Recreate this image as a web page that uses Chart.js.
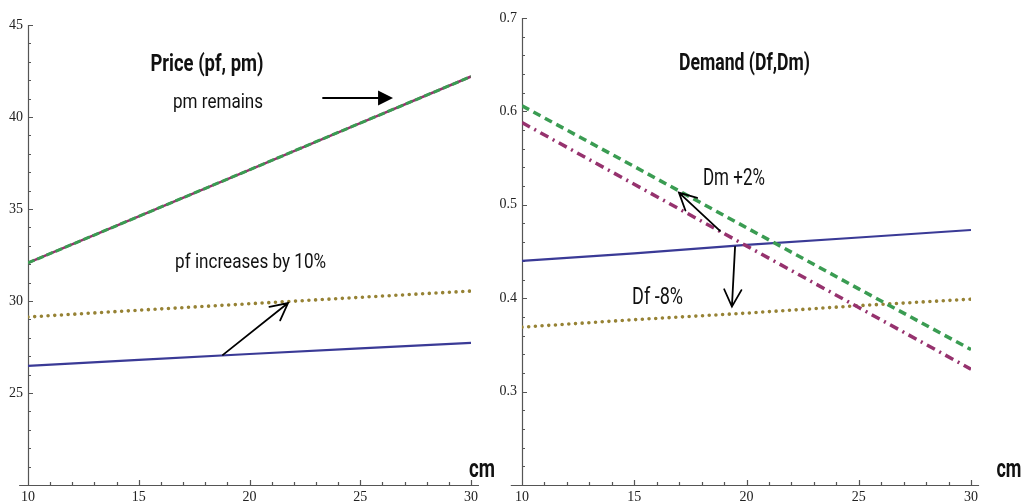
<!DOCTYPE html>
<html><head><meta charset="utf-8">
<script src="https://cdn.jsdelivr.net/npm/chart.js@4.4.1/dist/chart.umd.min.js"></script>
<style>
html,body{margin:0;padding:0;background:#fff;width:1023px;height:503px;overflow:hidden}
#l{position:absolute;left:0;top:0}
#r{position:absolute;left:495px;top:0}
</style></head><body>
<canvas id="l" width="505" height="503"></canvas>
<canvas id="r" width="528" height="503"></canvas>
<script>
// ---- data ----
const cm = [10, 15, 20, 25, 30];
// Price panel
const pmBase = [32.07, 34.6, 37.13, 39.67, 42.2];
const pmNew  = [32.07, 34.6, 37.13, 39.67, 42.2];
const pfBase = [26.47, 26.8, 27.12, 27.42, 27.72];
const pfNew  = [29.13, 29.5, 29.85, 30.2, 30.54];
// Demand panel
const dmBase = [0.588, 0.522, 0.456, 0.390, 0.324];
const dmNew  = [0.606, 0.541, 0.4755, 0.410, 0.345];
const dfBase = [0.440, 0.448, 0.457, 0.465, 0.473];
const dfNew  = [0.369, 0.377, 0.384, 0.392, 0.399];
// tick labels
const xTicks = [10, 15, 20, 25, 30];
const priceTicks = [25, 30, 35, 40, 45];
const demandTicks = [0.3, 0.4, 0.5, 0.6, 0.7];

const BLUE = 'rgb(58,58,150)', OLIVE = 'rgb(150,130,52)', GREEN = 'rgb(58,156,82)', MAGENTA = 'rgb(150,50,110)';
const pts = ys => cm.map((x, i) => ({x, y: ys[i]}));
const TXT = '"Roboto","Open Sans",sans-serif';

function fitText(ctx, text, cx, by, font, w) {
  ctx.save(); ctx.font = font;
  const m = ctx.measureText(text).width;
  ctx.translate(cx, by); ctx.scale(w / m, 1);
  ctx.textAlign = 'center'; ctx.textBaseline = 'alphabetic'; ctx.fillStyle = '#111';
  ctx.fillText(text, 0, 0); ctx.restore();
}
function arrow(ctx, x1, y1, x2, y2, filled) {
  const a = Math.atan2(y2 - y1, x2 - x1);
  ctx.save(); ctx.strokeStyle = '#000'; ctx.fillStyle = '#000'; ctx.lineCap = 'round';
  if (filled) {
    const L = 15, H = 7.5;
    const bx = x2 - L * Math.cos(a), by = y2 - L * Math.sin(a);
    ctx.lineWidth = 2;
    ctx.beginPath(); ctx.moveTo(x1, y1); ctx.lineTo(bx, by); ctx.stroke();
    ctx.beginPath(); ctx.moveTo(x2, y2);
    ctx.lineTo(bx + H * Math.sin(a), by - H * Math.cos(a));
    ctx.lineTo(bx - H * Math.sin(a), by + H * Math.cos(a));
    ctx.closePath(); ctx.fill();
  } else {
    const L = 19, t = 27 * Math.PI / 180;
    ctx.lineWidth = 1.8;
    ctx.beginPath(); ctx.moveTo(x1, y1); ctx.lineTo(x2, y2);
    ctx.moveTo(x2 - L * Math.cos(a - t), y2 - L * Math.sin(a - t)); ctx.lineTo(x2, y2);
    ctx.lineTo(x2 - L * Math.cos(a + t), y2 - L * Math.sin(a + t));
    ctx.stroke();
  }
  ctx.restore();
}

function axesPlugin(yMinorStep, xStart, xEnd) {
  return {
    id: 'axesDraw',
    beforeDatasetsDraw(chart) {
      const {ctx, scales: {x, y}} = chart;
      const x0 = x.getPixelForValue(x.min), y0 = y.getPixelForValue(y.min);
      ctx.save(); ctx.strokeStyle = '#555'; ctx.lineWidth = 1.2;
      ctx.beginPath();
      ctx.moveTo(x.getPixelForValue(xStart), y0 + 0.5); ctx.lineTo(x.getPixelForValue(xEnd), y0 + 0.5);
      ctx.moveTo(x0 + 0.5, y.getPixelForValue(y.max)); ctx.lineTo(x0 + 0.5, y0);
      for (let v = x.min; v <= x.max + 1e-9; v += 1) {
        const px = Math.round(x.getPixelForValue(v)) + 0.5;
        const L = Math.abs(v % 5) < 1e-9 ? 5 : 3;
        ctx.moveTo(px, y0); ctx.lineTo(px, y0 - L);
      }
      const n = Math.round((y.max - y.min) / yMinorStep);
      for (let i = 1; i <= n; i++) {
        const py = Math.round(y.getPixelForValue(y.min + i * yMinorStep)) + 0.5;
        const L = i % 5 === 0 ? 5 : 3;
        ctx.moveTo(x0, py); ctx.lineTo(x0 + L, py);
      }
      ctx.stroke(); ctx.restore();
    }
  };
}
function annotPlugin(draw) {
  return { id: 'annot', afterDraw(chart) { draw(chart.ctx, chart.scales.x, chart.scales.y); } };
}

function baseOptions(xmin, xmax, ymin, ymax, yTicks, padR, padT, yW, xH) {
  const tickFont = {family: 'Liberation Serif', size: 14};
  return {
    responsive: false, animation: false, devicePixelRatio: 1,
    layout: {padding: {left: 0, right: padR, top: padT, bottom: 0}},
    plugins: {legend: {display: false}, tooltip: {enabled: false}},
    elements: {point: {radius: 0}},
    scales: {
      x: {type: 'linear', min: xmin, max: xmax,
          grid: {display: false, drawTicks: false}, border: {display: false},
          afterBuildTicks: s => { s.ticks = xTicks.map(v => ({value: v})); },
          ticks: {autoSkip: false, maxRotation: 0, padding: 4, color: '#222', font: tickFont},
          afterFit: s => { s.height = xH; }},
      y: {type: 'linear', min: ymin, max: ymax,
          grid: {display: false, drawTicks: false}, border: {display: false},
          afterBuildTicks: s => { s.ticks = yTicks.map(v => ({value: v})); },
          ticks: {autoSkip: false, padding: 5, color: '#222', font: tickFont,
                  callback: v => String(v)},
          afterFit: s => { s.width = yW; }}
    }
  };
}

// ---- Price panel ----
new Chart(document.getElementById('l'), {
  type: 'line',
  data: {datasets: [
    {data: pts(pmNew), borderColor: GREEN, borderWidth: 3, borderDash: [7, 3], order: 0},
    {data: pts(pmBase), borderColor: MAGENTA, borderWidth: 2.5, order: 1},
    {data: pts(pfNew), borderColor: OLIVE, borderWidth: 3.6, borderDash: [0, 6.7], borderCapStyle: 'round', order: 2},
    {data: pts(pfBase), borderColor: BLUE, borderWidth: 2.2, order: 3}
  ]},
  options: baseOptions(10, 30, 20, 45, priceTicks, 34, 25, 28, 18),
  plugins: [axesPlugin(1, 9.6, 30.36), annotPlugin((ctx, x, y) => {
    fitText(ctx, 'Price (pf, pm)', x.getPixelForValue(18.08), y.getPixelForValue(42.5), 'bold 23px ' + TXT, 113);
    fitText(ctx, 'pm remains', x.getPixelForValue(18.58), y.getPixelForValue(40.49), '20px ' + TXT, 90);
    fitText(ctx, 'pf increases by 10%', x.getPixelForValue(20.05), y.getPixelForValue(31.79), '20px ' + TXT, 151);
    fitText(ctx, 'cm', x.getPixelForValue(30.5), y.getPixelForValue(20.43), 'bold 26px ' + TXT, 26);
    arrow(ctx, x.getPixelForValue(23.32), y.getPixelForValue(41.03), x.getPixelForValue(26.48), y.getPixelForValue(41.03), true);
    arrow(ctx, x.getPixelForValue(18.80), y.getPixelForValue(27.07), x.getPixelForValue(21.74), y.getPixelForValue(29.89), false);
  })]
});

// ---- Demand panel ----
new Chart(document.getElementById('r'), {
  type: 'line',
  data: {datasets: [
    {data: pts(dmNew), borderColor: GREEN, borderWidth: 3.5, borderDash: [8, 5], order: 0},
    {data: pts(dmBase), borderColor: MAGENTA, borderWidth: 3.5, borderDash: [9, 5, 2, 5], order: 1},
    {data: pts(dfNew), borderColor: OLIVE, borderWidth: 3.6, borderDash: [0, 6.7], borderCapStyle: 'round', order: 2},
    {data: pts(dfBase), borderColor: BLUE, borderWidth: 2.2, order: 3}
  ]},
  options: baseOptions(10, 30, 0.2, 0.7, demandTicks, 52, 18, 27, 18),
  plugins: [axesPlugin(0.02, 9.5, 30.36), annotPlugin((ctx, x, y) => {
    fitText(ctx, 'Demand (Df,Dm)', x.getPixelForValue(19.91), y.getPixelForValue(0.6444), 'bold 23px ' + TXT, 131);
    fitText(ctx, 'Dm +2%', x.getPixelForValue(19.44), y.getPixelForValue(0.5214), '24px ' + TXT, 62);
    fitText(ctx, 'Df -8%', x.getPixelForValue(16.04), y.getPixelForValue(0.394), '24px ' + TXT, 51);
    fitText(ctx, 'cm', x.getPixelForValue(31.69), y.getPixelForValue(0.209), 'bold 26px ' + TXT, 25);
    arrow(ctx, x.getPixelForValue(18.82), y.getPixelForValue(0.472), x.getPixelForValue(16.99), y.getPixelForValue(0.513), false);
    arrow(ctx, x.getPixelForValue(19.49), y.getPixelForValue(0.455), x.getPixelForValue(19.35), y.getPixelForValue(0.391), false);
  })]
});
</script>
</body></html>
